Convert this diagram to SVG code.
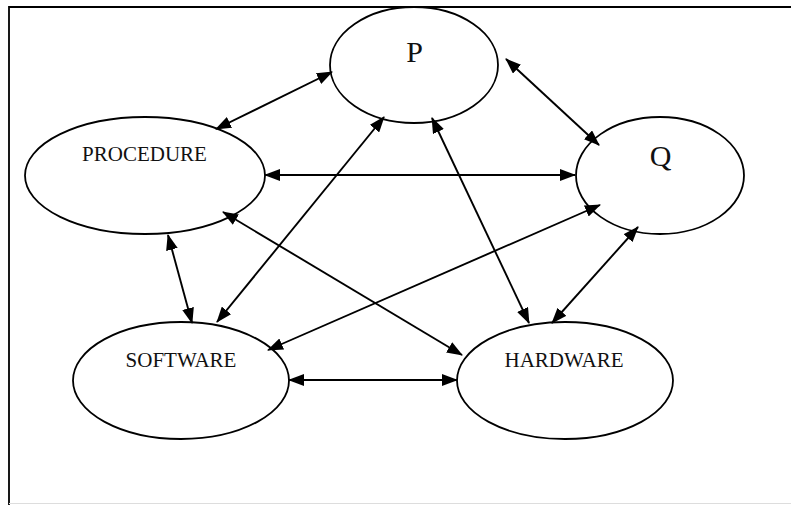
<svg xmlns="http://www.w3.org/2000/svg" width="791" height="505" viewBox="0 0 791 505">
<style>
.node ellipse{fill:#fff;stroke:#000;stroke-width:1.8}
.lbl{font-family:"Liberation Serif","Times New Roman",serif;font-size:21px;fill:#111;text-anchor:middle}
.big{font-family:"Liberation Serif","Times New Roman",serif;font-size:30px;fill:#111;text-anchor:middle}
.conn line{stroke:#000;stroke-width:1.9;marker-start:url(#ah);marker-end:url(#ah)}
</style>
<defs>
<marker id="ah" viewBox="0 0 16 12" refX="15" refY="6" markerWidth="16" markerHeight="12" markerUnits="userSpaceOnUse" orient="auto-start-reverse">
<path d="M0,0 L16,6 L0,12 z" fill="#000"/>
</marker>
</defs>
<rect width="791" height="505" fill="#fff"/>
<g id="frame" fill="none" stroke="#000" stroke-width="1.8">
<polyline points="9,505 9,7 791,7"/>
</g>
<line x1="9" y1="503.5" x2="791" y2="503.5" stroke="#ddd" stroke-width="1"/>
<g id="P" class="node"><ellipse cx="414" cy="65" rx="84" ry="58"/><text class="big" x="414.5" y="62">P</text></g>
<g id="PROCEDURE" class="node"><ellipse cx="145" cy="175.5" rx="120" ry="58.5"/><text class="lbl" x="144.5" y="161">PROCEDURE</text></g>
<g id="Q" class="node"><ellipse cx="660" cy="175.5" rx="84" ry="58.5"/><text class="big" x="660.5" y="166">Q</text></g>
<g id="SOFTWARE" class="node"><ellipse cx="181" cy="380.5" rx="108" ry="58.5"/><text class="lbl" x="181" y="367">SOFTWARE</text></g>
<g id="HARDWARE" class="node"><ellipse cx="565" cy="380.5" rx="108" ry="58.5"/><text class="lbl" x="564" y="367">HARDWARE</text></g>
<g id="connectors" class="conn">
<line x1="216" y1="129" x2="332" y2="72"/>
<line x1="506" y1="59" x2="599" y2="145"/>
<line x1="265" y1="175" x2="575" y2="175"/>
<line x1="168" y1="235" x2="192" y2="323"/>
<line x1="223" y1="212" x2="462" y2="355"/>
<line x1="217" y1="322" x2="384" y2="117"/>
<line x1="432" y1="118" x2="529" y2="323"/>
<line x1="600" y1="205" x2="268" y2="350"/>
<line x1="638" y1="227" x2="552" y2="323"/>
<line x1="289" y1="380" x2="457" y2="380"/>
</g>
</svg>
